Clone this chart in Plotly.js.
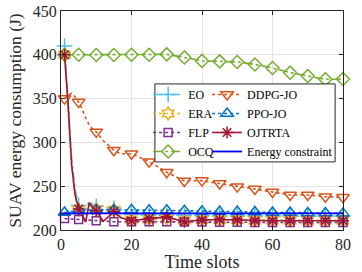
<!DOCTYPE html>
<html>
<head>
<meta charset="utf-8">
<script src="https://cdn.plot.ly/plotly-3.0.1.min.js"></script>
<style>html,body{margin:0;padding:0;background:#fff;}#chart{width:362px;height:272px;}</style>
</head>
<body>
<div id="chart"></div>
<script>
// Time slots: coarse (marker positions) and fine (with early transient detail)
const xMark = [1,5,10,15,20,25,30,35,40,45,50,55,60,65,70,75,80];
const xFine = [1,2,3,4,5,6,7,8,9,10,12,15,17,20,25,30,35,40,45,50,55,60,65,70,75,80];
const xConstraint = [0, 80];

// Series values (J)
const eo     = [410,350,282,246,228,225,223,233,229,227,222,225,220,218,217,217,216.5,216.5,216,216,216,216,216,216,216,216];
const era    = [400,338,272,238,223,220,218,223,224,224,219,223,215,212,212,213,211,211.5,211.5,211.5,211,211,211,211,211,211];
const flp    = [213,212,210.5,209.5,209.5,209.3,209.3,209,209,208.8,208.8,208.6,208.6,208.5,208.5,208.5,208.5];
const ocq    = [400,400,399.8,399.8,400,400,400.5,397,393,392.5,391.8,389,385,379.6,375.8,372,372.4];
const ddpg   = [350,354,356,352,346,338,328,320,315,312,302,291,287,287,278,266,256,256.4,253,249.5,246.8,243.4,240,240,238,237.3];
const ppo    = [220,222,223,223,223,222.5,222.5,222,221.5,221,221,220.5,220,220,219.5,219.5,219];
const ojtrta = [400,345,275,240,224,218,209,231,226,222,210,221,214,210.5,213,215,209.5,211.5,212,211.5,210.5,210.5,210.5,210.5,210.5,210.5];
const constraintVal = [219, 219];

const names = ['EO','ERA','FLP','OCQ','DDPG-JO','PPO-JO','OJTRTA','Energy constraint'];

// markers are shown at slot 1 and every 5th slot; other samples only shape the line
function markColors(xs, c){ return xs.map(v => (v === 1 || v % 5 === 0) ? c : 'rgba(0,0,0,0)'); }

function tr(name, xs, ys, color, dash, symbol, msize, legend){
  const cols = markColors(xs, color);
  return {
    type:'scatter', mode:'lines+markers', name:name, x:xs, y:ys,
    legend: legend,
    line:{color:color, width:1.6, dash:dash},
    marker:{symbol:symbol, size:msize, color:cols, line:{color:cols, width:1.5}},
    cliponaxis:false
  };
}

const data = [
  tr(names[0], xFine, eo,    '#4DBEEE', 'dashdot', 'cross-thin-open', 11, 'legend'),
  tr(names[1], xFine, era,   '#EDB120', 'dot',     'hexagram-open',    10, 'legend'),
  tr(names[2], xMark, flp,   '#7E2F8E', 'dot',     'square-open',      8, 'legend'),
  tr(names[3], xMark, ocq,   '#77AC30', 'dashdot', 'diamond-open',     10, 'legend'),
  tr(names[4], xFine, ddpg,  '#D95319', 'dot',     'triangle-down-open', 11, 'legend2'),
  tr(names[5], xMark, ppo,   '#0072BD', 'dot',     'triangle-up-open', 11, 'legend2'),
  tr(names[6], xFine, ojtrta,'#A2142F', 'solid',   'asterisk-open',    10, 'legend2'),
  {type:'scatter', mode:'lines', name:names[7], x:xConstraint, y:constraintVal, legend:'legend2',
   line:{color:'#0000FF', width:1.8}}
];

const font = {family:'"Liberation Serif", "Times New Roman", serif', color:'#262626'};
const legendCommon = {bgcolor:'rgba(0,0,0,0)', borderwidth:0, font:{family:font.family, size:12, color:'#000'},
  xanchor:'left', yanchor:'top', itemsizing:'trace', tracegroupgap:0};

const layout = {
  width:362, height:272,
  margin:{l:61, r:19, t:11, b:42},
  paper_bgcolor:'#fff', plot_bgcolor:'#fff',
  font:font,
  showlegend:true,
  xaxis:{range:[0,80], tickvals:[0,20,40,60,80], ticks:'inside', ticklen:4, tickcolor:'#262626',
    showline:true, mirror:'ticks', linecolor:'#262626', linewidth:1,
    showgrid:true, gridcolor:'#e3e3e3', zeroline:false,
    tickfont:{size:16, family:font.family, color:'#262626'},
    title:{text:'Time slots', font:{size:18, family:font.family, color:'#262626'}, standoff:2}},
  yaxis:{range:[200,450], tickvals:[200,250,300,350,400,450], ticks:'inside', ticklen:4, tickcolor:'#262626',
    showline:true, mirror:'ticks', linecolor:'#262626', linewidth:1,
    showgrid:true, gridcolor:'#e3e3e3', zeroline:false,
    tickfont:{size:16, family:font.family, color:'#262626'},
    title:{text:'SUAV energy consumption (J)', font:{size:17.5, family:font.family, color:'#262626'}, standoff:6}},
  legend:Object.assign({x:0.309, y:0.685}, legendCommon),
  legend2:Object.assign({x:0.518, y:0.685}, legendCommon),
  shapes:[{type:'rect', xref:'paper', yref:'paper', x0:0.333, x1:0.972, y0:0.311, y1:0.667,
    fillcolor:'#fff', line:{color:'#262626', width:1}, layer:'above'}]
};

Plotly.newPlot('chart', data, layout, {staticPlot:true, displayModeBar:false});
</script>
</body>
</html>
